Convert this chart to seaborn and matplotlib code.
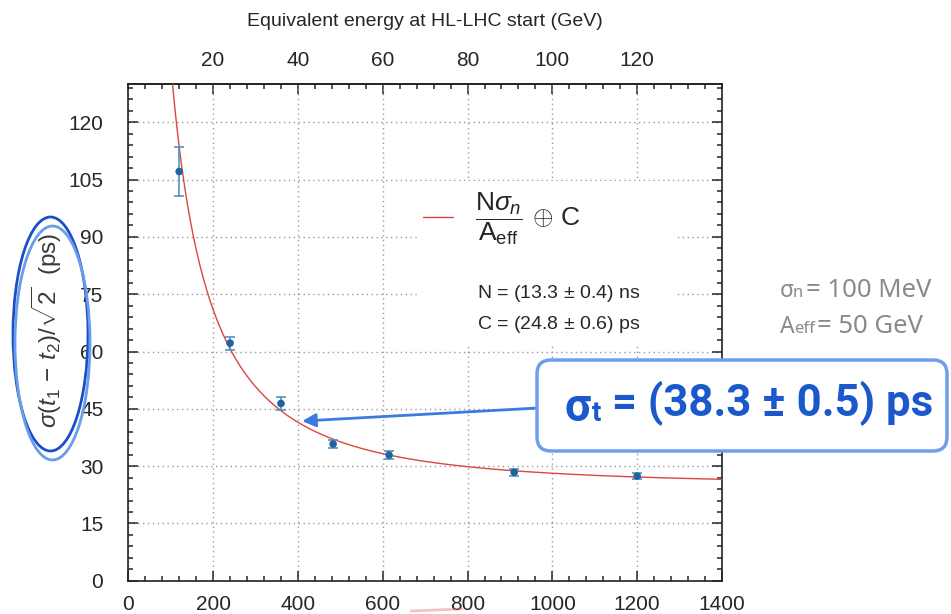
import numpy as np
import matplotlib
matplotlib.use('Agg')
import matplotlib.pyplot as plt
import seaborn as sns
from matplotlib.ticker import MultipleLocator, FixedLocator
from matplotlib.patches import Ellipse, FancyBboxPatch, Rectangle
from matplotlib.lines import Line2D
from matplotlib.transforms import IdentityTransform

# Messpunkte (Amplitude, Zeitaufloesung, Fehler)
amp = [120, 240, 360, 483, 615, 910, 1200]
sigma_t = [107.1, 62.2, 46.4, 35.8, 32.9, 28.4, 27.4]
sigma_err = [6.5, 1.7, 1.7, 1.0, 1.0, 0.9, 0.7]

# Fit-Parameter aus der Legende
fit_N_ns = 13.3
fit_C_ps = 24.8
sigma_n_gev = 0.1
gev_per_amp = 0.1

top_ticks = [20, 40, 60, 80, 100, 120]

sns.set_style('ticks')
plt.rcParams['font.family'] = ['Liberation Sans', 'DejaVu Sans']
plt.rcParams['mathtext.fontset'] = 'custom'
plt.rcParams['mathtext.rm'] = 'Liberation Sans'
plt.rcParams['mathtext.it'] = 'Liberation Sans:italic'
plt.rcParams['mathtext.bf'] = 'Liberation Sans:bold'

fig = plt.figure(figsize=(9.51, 6.14), dpi=100)
ax = fig.add_axes([128.3 / 951, 1 - 580.8 / 614, (722 - 128.3) / 951, (580.8 - 84) / 614])
ax.set_axisbelow(True)

# Fitkurve
x_fit = np.linspace(95, 1400, 500)
y_fit = np.hypot(fit_N_ns * 1e3 * sigma_n_gev / (x_fit * gev_per_amp), fit_C_ps)
sns.lineplot(x=x_fit, y=y_fit, ax=ax, color='#d9473d', lw=1.0, zorder=3, legend=False)
fit_line = Line2D([], [], color='#d9473d', lw=1.0)

# Daten mit Fehlerbalken
ax.errorbar(amp, sigma_t, yerr=sigma_err, fmt='none', ecolor='#4f93c4', elinewidth=1.2,
            capsize=3.6, capthick=1.2, zorder=4)
sns.scatterplot(x=amp, y=sigma_t, ax=ax, color='#1f63a0', s=30, edgecolor='none', zorder=5,
                legend=False)

ax.set_xlim(0, 1400)
ax.set_ylim(0, 130)
ax.xaxis.set_major_locator(MultipleLocator(200))
ax.xaxis.set_minor_locator(MultipleLocator(40))
ax.yaxis.set_major_locator(MultipleLocator(15))
ax.yaxis.set_minor_locator(MultipleLocator(3))
ax.grid(True, which='major', color='#9a9a9a', lw=1.0, ls=(0, (1, 2.5)))
ax.tick_params(which='both', direction='in', top=False, right=True, labelsize=15, width=1.1)
ax.tick_params(which='major', length=7.2)
ax.tick_params(which='minor', length=3.6)
ax.tick_params(axis='x', pad=10)
ax.tick_params(axis='y', pad=18)
for s in ax.spines.values():
    s.set_linewidth(1.2)
    s.set_color('#222222')

sec = ax.secondary_xaxis('top', functions=(lambda x: x * gev_per_amp, lambda e: e / gev_per_amp))
sec.xaxis.set_major_locator(FixedLocator(top_ticks))
sec.xaxis.set_minor_locator(MultipleLocator(4))
sec.tick_params(which='both', direction='in', labelsize=15, width=1.1, pad=10)
sec.tick_params(which='major', length=7.2)
sec.tick_params(which='minor', length=3.6)
sec.spines['top'].set_linewidth(1.2)
sec.set_xlabel('Equivalent energy at HL-LHC start (GeV)', fontsize=14, labelpad=18)

ax.set_ylabel(r'$\sigma(t_1\,-\,t_2)/\sqrt{2}$  (ps)', fontsize=17.5, color='#3a3a3a')
ax.yaxis.set_label_coords(-0.108, 0.505)

# weisser Legendenhintergrund
ax.add_patch(Rectangle((0.49, 0.475), 0.435, 0.33, transform=ax.transAxes,
                       facecolor='white', edgecolor='none', zorder=1))
leg = ax.legend([fit_line], [r'$\dfrac{\mathrm{N}\sigma_n}{\mathrm{A_{eff}}}\,\oplus\,\mathrm{C}$'],
                loc='center left', bbox_to_anchor=(0.497, 0.728), frameon=False,
                fontsize=19, handlelength=1.14, handletextpad=0.8, borderpad=0, borderaxespad=0)
ax.text(0.587, 0.579, r'N = (13.3 $\pm$ 0.4) ns', transform=ax.transAxes, fontsize=14,
        va='center', ha='left')
ax.text(0.587, 0.515, r'C = (24.8 $\pm$ 0.6) ps', transform=ax.transAxes, fontsize=14,
        va='center', ha='left')

px = IdentityTransform()


def pieces(parts, y, **kw):
    # Text aus Stuecken mit eigener Groesse/Lage zusammensetzen (Pixel, von oben)
    for x, dy, txt, size in parts:
        fig.text(x, 614 - y - dy, txt, transform=px, fontsize=size, va='baseline',
                 ha='left', **kw)


# Anmerkungen rechts
grey = dict(family=['Noto Sans', 'DejaVu Sans'], color='#8a8a8a')
pieces([(780, 0, 'σ', 16.5), (793, 0, 'n', 12), (806, 0, '= 100 MeV', 18.5)], 297, **grey)
pieces([(780, 0, 'A', 16.5), (794, 0, 'eff', 12), (817, 0, '= 50 GeV', 18.5)], 333, **grey)

box = FancyBboxPatch((537, 614 - 451), 410, 91, boxstyle='round,pad=0,rounding_size=14',
                     transform=px, facecolor='white', edgecolor='#6d9fec', lw=2.5, zorder=10)
fig.add_artist(box)
blue = dict(family=['Roboto', 'DejaVu Sans'], weight='bold', color='#1a58cc', zorder=11)
pieces([(564, 5, 'σ', 33), (592, 5, 't', 20), (612, 0, '= (38.3 ± 0.5) ps', 31.5)], 416, **blue)

ax.annotate('', xy=(410, 41.8), xycoords='data', xytext=(538, 614 - 408),
            textcoords='figure pixels',
            arrowprops=dict(arrowstyle='-|>', color='#3b7be0', lw=2, mutation_scale=20,
                            connectionstyle='arc3,rad=0.0', shrinkA=0, shrinkB=0))

# Ellipsen um die y-Beschriftung
fig.add_artist(Ellipse((50.5, 614 - 334), 75, 234, transform=px, fill=False,
                       edgecolor='#1a4fc8', lw=2))
fig.add_artist(Ellipse((52.5, 614 - 343), 75, 234, transform=px, fill=False,
                       edgecolor='#6a9ce8', lw=2))
fig.add_artist(Line2D([411, 462], [3, 5], transform=px, color='#e07060', lw=2, alpha=0.4))

fig.savefig('out.png', dpi=100)
